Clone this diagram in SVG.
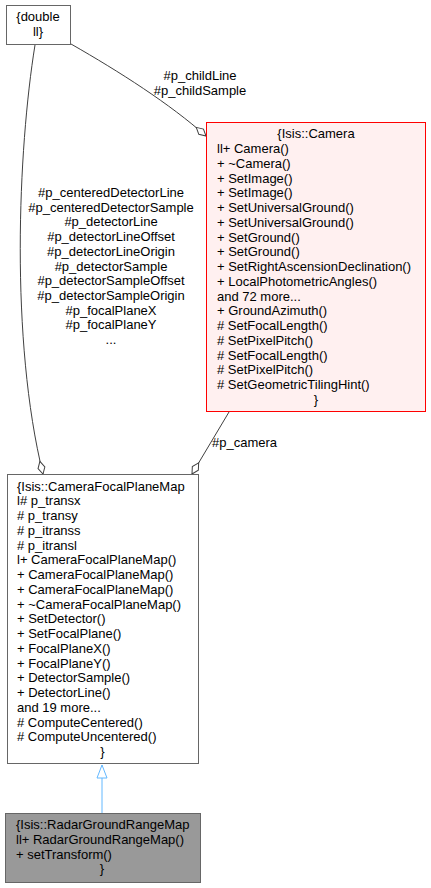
<svg xmlns="http://www.w3.org/2000/svg" width="431" height="888" viewBox="0 0 431 888">
<style>
text{font-family:"Liberation Sans",Arial,Helvetica,sans-serif;font-size:13px;fill:#000}
.node{fill:#fff;stroke:#666;stroke-width:1}
.edge{fill:none;stroke:#404040;stroke-width:1}
.inh{fill:none;stroke:#63b8ff;stroke-width:1}
.c{text-anchor:middle}
</style>
<defs>
<marker id="diamond" markerUnits="userSpaceOnUse" markerWidth="16" markerHeight="10" viewBox="-1 -1 16 10" refX="13" refY="4" orient="auto">
<path d="M0,4 L6.5,0.5 L13,4 L6.5,7.5 Z" fill="#fff" stroke="#404040" stroke-width="1"/>
</marker>
<marker id="tri" markerUnits="userSpaceOnUse" markerWidth="16" markerHeight="14" viewBox="-1 -1 16 14" refX="13" refY="5.5" orient="auto">
<path d="M0,0.5 L13,5.5 L0,10.5 Z" fill="#fff" stroke="#63b8ff" stroke-width="1"/>
</marker>
</defs>
<g id="connectors">
<path class="edge" d="M71,44 C120,72 170,104 206,136" marker-end="url(#diamond)"/>
<text class="c" x="200" y="80">#p_childLine</text>
<text class="c" x="200" y="95">#p_childSample</text>
<path class="edge" d="M35,45 C18,150 10,340 43,474" marker-end="url(#diamond)"/>
<text class="c" x="111" y="197">#p_centeredDetectorLine</text>
<text class="c" x="111" y="211.7">#p_centeredDetectorSample</text>
<text class="c" x="111" y="226.4">#p_detectorLine</text>
<text class="c" x="111" y="241.1">#p_detectorLineOffset</text>
<text class="c" x="111" y="255.8">#p_detectorLineOrigin</text>
<text class="c" x="111" y="270.5">#p_detectorSample</text>
<text class="c" x="111" y="285.2">#p_detectorSampleOffset</text>
<text class="c" x="111" y="299.9">#p_detectorSampleOrigin</text>
<text class="c" x="111" y="314.6">#p_focalPlaneX</text>
<text class="c" x="111" y="329.3">#p_focalPlaneY</text>
<text class="c" x="111" y="344">...</text>
<path class="edge" d="M229,412 L192,474" marker-end="url(#diamond)"/>
<text x="212" y="447">#p_camera</text>
<path class="inh" d="M102,813 L102,765" marker-end="url(#tri)"/>
</g>
<g id="node_double">
<rect class="node" x="6.5" y="5.5" width="64" height="39"/>
<text class="c" x="38" y="21">{double</text>
<text class="c" x="38" y="36">ll}</text>
</g>
<g id="node_camera">
<rect x="206.5" y="122.5" width="219" height="289" fill="#fff0f0" stroke="#ff0000"/>
<text class="c" x="316" y="138.3">{Isis::Camera</text>
<text x="217" y="153">ll+ Camera()</text>
<text x="217" y="167.8">+ ~Camera()</text>
<text x="217" y="182.5">+ SetImage()</text>
<text x="217" y="197.3">+ SetImage()</text>
<text x="217" y="212">+ SetUniversalGround()</text>
<text x="217" y="226.8">+ SetUniversalGround()</text>
<text x="217" y="241.5">+ SetGround()</text>
<text x="217" y="256.3">+ SetGround()</text>
<text x="217" y="271">+ SetRightAscensionDeclination()</text>
<text x="217" y="285.8">+ LocalPhotometricAngles()</text>
<text x="217" y="300.5">and 72 more...</text>
<text x="217" y="315.3">+ GroundAzimuth()</text>
<text x="217" y="330"># SetFocalLength()</text>
<text x="217" y="344.8"># SetPixelPitch()</text>
<text x="217" y="359.5"># SetFocalLength()</text>
<text x="217" y="374.3"># SetPixelPitch()</text>
<text x="217" y="389"># SetGeometricTilingHint()</text>
<text class="c" x="316" y="403.8">}</text>
</g>
<g id="node_cfpm">
<rect class="node" x="7.5" y="474.5" width="191" height="289"/>
<text x="17" y="490.5">{Isis::CameraFocalPlaneMap</text>
<text x="17" y="505.3">l# p_transx</text>
<text x="17" y="520"># p_transy</text>
<text x="17" y="534.8"># p_itranss</text>
<text x="17" y="549.5"># p_itransl</text>
<text x="17" y="564.3">l+ CameraFocalPlaneMap()</text>
<text x="17" y="579">+ CameraFocalPlaneMap()</text>
<text x="17" y="593.8">+ CameraFocalPlaneMap()</text>
<text x="17" y="608.5">+ ~CameraFocalPlaneMap()</text>
<text x="17" y="623.3">+ SetDetector()</text>
<text x="17" y="638">+ SetFocalPlane()</text>
<text x="17" y="652.8">+ FocalPlaneX()</text>
<text x="17" y="667.5">+ FocalPlaneY()</text>
<text x="17" y="682.3">+ DetectorSample()</text>
<text x="17" y="697">+ DetectorLine()</text>
<text x="17" y="711.8">and 19 more...</text>
<text x="17" y="726.5"># ComputeCentered()</text>
<text x="17" y="741.3"># ComputeUncentered()</text>
<text class="c" x="102.5" y="756">}</text>
</g>
<g id="node_radar">
<rect x="5.5" y="813.5" width="195" height="69" fill="#999999" stroke="#666"/>
<text x="16" y="829">{Isis::RadarGroundRangeMap</text>
<text x="16" y="843.8">ll+ RadarGroundRangeMap()</text>
<text x="16" y="858.5">+ setTransform()</text>
<text class="c" x="102" y="873.3">}</text>
</g>
</svg>
